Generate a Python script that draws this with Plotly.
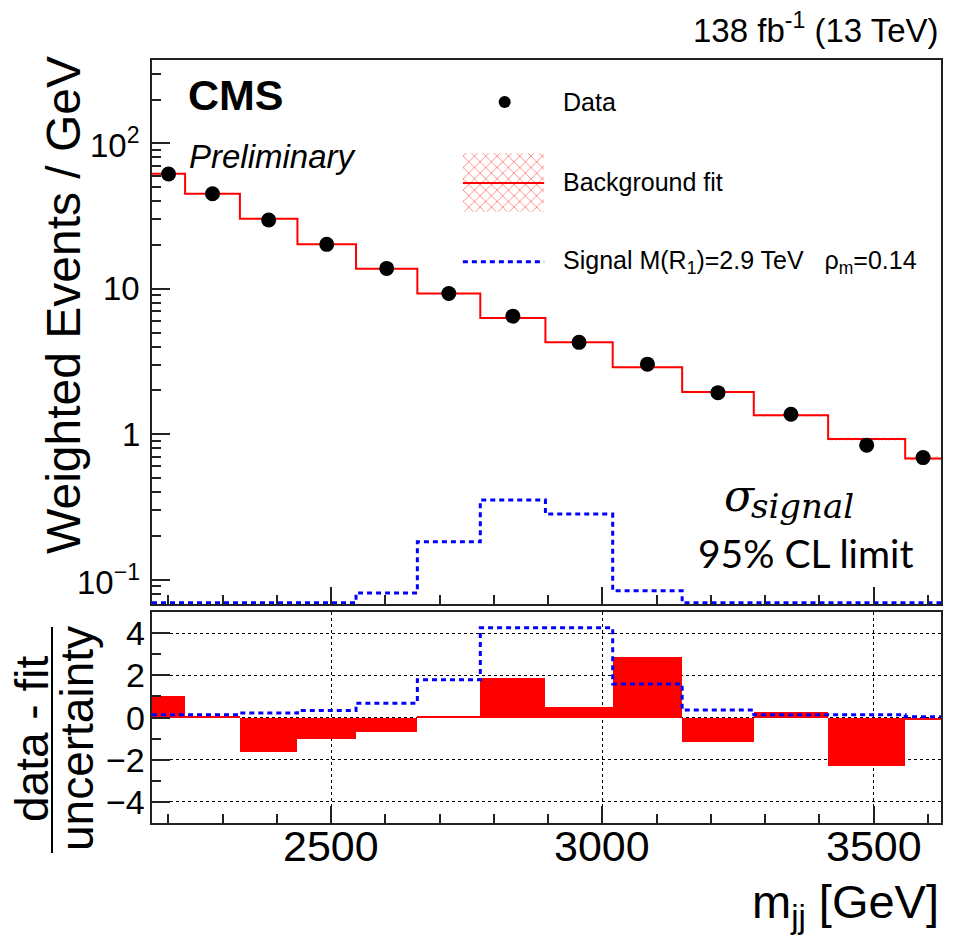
import math
import plotly.graph_objects as go

# ---- binning and contents -------------------------------------------------
bin_edges = [2170, 2231, 2332, 2438, 2546, 2659, 2775, 2895, 3019, 3147, 3279, 3416, 3558, 3624]
data_vals = [61.5, 45.0, 29.7, 20.2, 13.8, 9.27, 6.48, 4.28, 3.03, 1.93, 1.37, 0.84, 0.69]
fit_vals = [61.8, 45.0, 30.3, 20.2, 13.7, 9.27, 6.29, 4.28, 2.89, 1.95, 1.35, 0.925, 0.68]
fit_rel_unc = [0.004, 0.004, 0.005, 0.006, 0.007, 0.008, 0.010, 0.012, 0.015, 0.020, 0.025, 0.030, 0.040]
signal_vals = [0.05, 0.05, 0.05, 0.05, 0.081, 0.182, 0.352, 0.282, 0.0838, 0.05, 0.05, 0.05, 0.05]
pull_vals = [1.02, 0.05, -1.65, -1.03, -0.68, 0.06, 1.85, 0.51, 2.87, -1.15, 0.26, -2.31, -0.10]
signal_pull_vals = [0.13, 0.13, 0.21, 0.33, 0.68, 1.79, 4.25, 4.25, 1.59, 0.35, 0.13, 0.13, 0.03]

main_tick_vals = [0.1, 1, 10, 100]
main_tick_text = ["10<sup>\u22121</sup>", "1", "10", "10<sup>2</sup>"]
ratio_tick_vals = [-4, -2, 0, 2, 4]
ratio_tick_text = ["\u22124", "\u22122", "0", "2", "4"]
x_tick_vals = [2500, 3000, 3500]
x_tick_text = ["2500", "3000", "3500"]

y_log_range = [-1.168, 2.573]
y_floor = 10 ** (y_log_range[0] + 0.008)   # values below the frame are drawn on its floor

W, H = 953, 942
RED = "#ff0000"
BLUE = "#0000ff"
SANS = "Liberation Sans, Arial, Helvetica, sans-serif"


def px(x):
    return x / W


def py(y):
    return 1 - y / H


centers = [(a + b) / 2 for a, b in zip(bin_edges[:-1], bin_edges[1:])]
widths = [b - a for a, b in zip(bin_edges[:-1], bin_edges[1:])]


def step(vals):
    return list(bin_edges), list(vals) + [vals[-1]]


fig = go.Figure()

# ---- upper pad ------------------------------------------------------------
up = [v * (1 + r) for v, r in zip(fit_vals, fit_rel_unc)]
lo = [v * (1 - r) for v, r in zip(fit_vals, fit_rel_unc)]
bx, by = [], []
for i in range(len(fit_vals)):
    bx += [bin_edges[i], bin_edges[i + 1]]
    by += [up[i], up[i]]
for i in reversed(range(len(fit_vals))):
    bx += [bin_edges[i + 1], bin_edges[i]]
    by += [lo[i], lo[i]]
fig.add_trace(go.Scatter(
    x=bx, y=by, mode="lines", fill="toself", line=dict(width=0),
    fillcolor="rgba(0,0,0,0)",
    fillpattern=dict(shape="x", fgcolor="rgba(255,0,0,0.8)", bgcolor="rgba(0,0,0,0)", size=5, solidity=0.2),
    xaxis="x", yaxis="y", hoverinfo="skip", showlegend=False))

sx, sy = step(fit_vals)
fig.add_trace(go.Scatter(x=sx, y=sy, mode="lines", line=dict(color=RED, width=2, shape="hv"),
                         xaxis="x", yaxis="y", showlegend=False))

sig_drawn = [max(v, y_floor) for v in signal_vals]
sx, sy = step(sig_drawn)
fig.add_trace(go.Scatter(x=sx, y=sy, mode="lines",
                         line=dict(color=BLUE, width=3, shape="hv", dash="5px,4px"),
                         xaxis="x", yaxis="y", showlegend=False))

fig.add_trace(go.Scatter(x=centers, y=data_vals, mode="markers",
                         marker=dict(color="black", size=15, symbol="circle"),
                         xaxis="x", yaxis="y", showlegend=False))

# ---- lower pad ------------------------------------------------------------
fig.add_trace(go.Bar(x=centers, y=pull_vals, width=widths, base=0,
                     marker=dict(color=RED, line=dict(width=0)),
                     xaxis="x2", yaxis="y2", showlegend=False))
sx, sy = step(signal_pull_vals)
fig.add_trace(go.Scatter(x=sx, y=sy, mode="lines",
                         line=dict(color=BLUE, width=3, shape="hv", dash="5px,4px"),
                         xaxis="x2", yaxis="y2", showlegend=False))

# ---- legend symbols (unit frame over the upper pad) -------------------------
fig.add_trace(go.Scatter(
    x=[0.394, 0.497, 0.497, 0.394, 0.394], y=[0.829, 0.829, 0.721, 0.721, 0.829],
    mode="lines", fill="toself", line=dict(width=0), fillcolor="rgba(0,0,0,0)",
    fillpattern=dict(shape="x", fgcolor="rgba(255,0,0,0.9)", bgcolor="rgba(0,0,0,0)", size=8, solidity=0.22),
    xaxis="x3", yaxis="y3", showlegend=False, hoverinfo="skip"))
fig.add_trace(go.Scatter(x=[0.394, 0.497], y=[0.774, 0.774], mode="lines",
                         line=dict(color=RED, width=2), xaxis="x3", yaxis="y3", showlegend=False))
fig.add_trace(go.Scatter(x=[0.447], y=[0.923], mode="markers", marker=dict(color="black", size=12),
                         xaxis="x3", yaxis="y3", showlegend=False))
fig.add_trace(go.Scatter(x=[0.394, 0.497], y=[0.629, 0.629], mode="lines",
                         line=dict(color=BLUE, width=3, dash="5px,4px"),
                         xaxis="x3", yaxis="y3", showlegend=False))

xdom = [px(152), px(941)]
frame = dict(showline=True, linecolor="#222", linewidth=2, mirror=True, zeroline=False)

fig.update_layout(
    width=W, height=H, margin=dict(l=0, r=0, t=0, b=0),
    paper_bgcolor="white", plot_bgcolor="rgba(0,0,0,0)", bargap=0,
    xaxis=dict(domain=xdom, range=[bin_edges[0], bin_edges[-1]], anchor="y",
               showticklabels=False, ticks="inside", ticklen=17, tickwidth=1.5, tickcolor="#222",
               tickvals=x_tick_vals, showgrid=False,
               minor=dict(ticks="inside", ticklen=9, tickwidth=1.5, tickcolor="#222", dtick=100, tick0=2000),
               **frame),
    yaxis=dict(domain=[py(604), py(60)], type="log", range=y_log_range, anchor="x",
               tickvals=main_tick_vals, showticklabels=False,
               ticks="inside", ticklen=18, tickwidth=1.5, tickcolor="#222", showgrid=False,
               minor=dict(ticks="inside", ticklen=9, tickwidth=1.5, tickcolor="#222",
                          tickvals=[0.08, 0.09, 0.2, 0.3, 0.4, 0.5, 0.6, 0.7, 0.8, 0.9,
                                    2, 3, 4, 5, 6, 7, 8, 9, 20, 30, 40, 50, 60, 70, 80, 90, 200, 300]),
               **frame),
    xaxis2=dict(domain=xdom, range=[bin_edges[0], bin_edges[-1]], anchor="y2",
                tickvals=x_tick_vals, showticklabels=False,
                ticks="inside", ticklen=17, tickwidth=1.5, tickcolor="#222",
                showgrid=True, gridcolor="black", gridwidth=1, griddash="dot",
                minor=dict(ticks="inside", ticklen=9, tickwidth=1.5, tickcolor="#222", dtick=100, tick0=2000,
                           showgrid=False),
                **frame),
    yaxis2=dict(domain=[py(823), py(612)], range=[-5, 5], anchor="x2",
                tickvals=ratio_tick_vals, showticklabels=False,
                ticks="inside", ticklen=18, tickwidth=1.5, tickcolor="#222",
                showgrid=True, gridcolor="black", gridwidth=1, griddash="dot",
                minor=dict(ticks="inside", ticklen=9, tickwidth=1.5, tickcolor="#222",
                           tickvals=[-3, -1, 1, 3], showgrid=False),
                **frame),
    xaxis3=dict(domain=xdom, range=[0, 1], anchor="y3", visible=False),
    yaxis3=dict(domain=[py(604), py(60)], range=[0, 1], anchor="x3", visible=False),
)


def note(text, x, y, size, family=SANS, xanchor="left", yanchor="middle", angle=0, color="black"):
    fig.add_annotation(text=text, x=px(x), y=py(y), xref="paper", yref="paper",
                       xanchor=xanchor, yanchor=yanchor, showarrow=False, textangle=angle,
                       font=dict(family=family, size=size, color=color))


# tick labels placed against the frames
for v, t in zip(main_tick_vals, main_tick_text):
    fig.add_annotation(text=t, x=px(142), xref="paper", y=math.log10(v), yref="y",
                       xanchor="right", yanchor="middle", showarrow=False,
                       font=dict(family=SANS, size=33, color="black"))
for v, t in zip(ratio_tick_vals, ratio_tick_text):
    fig.add_annotation(text=t, x=px(147), xref="paper", y=v, yref="y2",
                       xanchor="right", yanchor="middle", showarrow=False,
                       font=dict(family=SANS, size=34, color="black"))
for v, t in zip(x_tick_vals, x_tick_text):
    fig.add_annotation(text=t, x=v, xref="x2", y=py(846), yref="paper",
                       xanchor="center", yanchor="middle", showarrow=False,
                       font=dict(family=SANS, size=43, color="black"))

# labels
note("<b>CMS</b>", 186, 95, 43)
note("<i>Preliminary</i>", 187, 157, 33)
note("138 fb<sup>-1</sup> (13 TeV)", 941, 28, 33, xanchor="right")
note("Data", 561, 102, 25)
note("Background fit", 561, 182, 25)
note("Signal M(R<sub>1</sub>)=2.9 TeV\u00a0\u00a0 \u03c1<sub>m</sub>=0.14", 561, 262, 25)
note("Weighted Events / GeV", 63, 305, 48, xanchor="center", angle=-90)
note("data - fit", 32, 739, 46, xanchor="center", angle=-90)
note("uncertainty", 77, 739, 46, xanchor="center", angle=-90)
note("m<sub>jj</sub> [GeV]", 941, 905, 47, xanchor="right")
note("<i>\u03c3</i>", 722, 495, 44, family="DejaVu Serif, serif")
note("<i>signal</i>", 749, 506, 34, family="DejaVu Serif, serif")
note("95% CL limit", 805, 553, 39, family="Lato, sans-serif", xanchor="center")

fig.add_shape(type="line", xref="paper", yref="paper", x0=px(52), x1=px(52), y0=py(627), y1=py(853),
              line=dict(color="black", width=2))

fig.write_html("out.html")
